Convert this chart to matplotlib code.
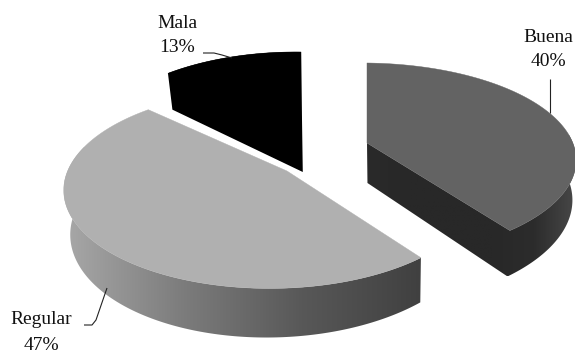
import numpy as np
import matplotlib
matplotlib.use("Agg")
import matplotlib.pyplot as plt
from matplotlib.patches import Polygon
from matplotlib.colors import LinearSegmentedColormap

# Survey answers and their share in percent
categories = ["Buena", "Regular", "Mala"]
values = [40, 47, 13]

# Slice styling and where each exploded slice sits on the canvas
apexes = {"Buena": (367, 143), "Regular": (287, 171), "Mala": (301, 132)}
top_colors = {"Buena": "#636363", "Regular": "#b0b0b0", "Mala": "#000000"}
side_ramps = {
    "Buena": ["#2a2a2a", "#282828", "#282828", "#282828", "#2c2c2c", "#484848"],
    "Regular": ["#a8a8a8", "#7c7c7c", "#585858", "#404040"],
    "Mala": ["#000000", "#000000"],
}
# Projection settings per slice: horizontal radius, vertical radius, x tilt
shapes = {"Buena": (212.0, 94.4, 0.03), "Regular": (204.0, 96.0, 0.07), "Mala": (201.0, 94.4, 0.03)}
label_pos = {
    "Buena": (548, 38, 62),
    "Regular": (41, 320, 346),
    "Mala": (177, 24, 48),
}
leaders = [
    ([550, 550], [79, 113]),
    ([84, 92, 96, 107], [325, 325, 320, 288]),
    ([203, 214, 222, 232], [53, 53, 55, 58]),
]

KY, DEPTH = 0.18, 40.0
BASE_SHRINK, BASE_PIVOT = 0.02, 390.0


def project(theta_deg, apex, shape):
    """Rim of the upper face and of the base, with angles clockwise from 12 o'clock."""
    rx, ry, kx = shape
    t = np.radians(theta_deg)
    x, y = np.sin(t), np.cos(t)
    s = 1.0 / (1.0 + KY * y + kx * x)
    top_x = apex[0] + rx * x * s
    top_y = apex[1] - ry * y * s
    bot_x = top_x - BASE_SHRINK * (top_x - BASE_PIVOT)
    bot_y = top_y + DEPTH * s
    return top_x, top_y, bot_x, bot_y


def base_point(p):
    return (p[0] - BASE_SHRINK * (p[0] - BASE_PIVOT), p[1] + DEPTH)


fig = plt.figure(figsize=(5.75, 3.54), dpi=100)
ax = fig.add_axes([0, 0, 1, 1])

edges = np.cumsum([0] + values) * 3.6
spans = {c: (edges[i], edges[i + 1]) for i, c in enumerate(categories)}

# Painted back to front so Regular overlaps the others
for name in ["Mala", "Buena", "Regular"]:
    start, end = spans[name]
    apex = apexes[name]
    shape = shapes[name]
    th = np.linspace(start, end, 241)
    tx, ty, bx, by = project(th, apex, shape)
    ramp = LinearSegmentedColormap.from_list(name, side_ramps[name])

    # Lower body of the slice: outer wall plus the cut face that looks forward
    if name == "Buena":
        keep = np.cos(np.radians(th)) < 0.1
        outline = np.vstack([
            np.column_stack([tx[keep], ty[keep]]),
            [apex], [base_point(apex)],
            np.column_stack([bx[keep][::-1], by[keep][::-1]]),
        ])
    elif name == "Mala":
        outline = np.vstack([
            np.column_stack([tx, ty]),
            [base_point(apex)],
            [(bx[0], by[0])],
            np.column_stack([tx[:1], ty[:1]]),
        ])
    else:
        keep = np.cos(np.radians(th)) < 0.25
        outline = np.vstack([
            np.column_stack([tx[keep], ty[keep]]),
            np.column_stack([bx[keep][::-1], by[keep][::-1]]),
        ])

    body = Polygon(outline, closed=True, fc="none", ec="none", zorder=1)
    ax.add_patch(body)
    x0, x1 = outline[:, 0].min(), outline[:, 0].max()
    y0, y1 = outline[:, 1].min(), outline[:, 1].max()
    gradient = np.linspace(0, 1, 256).reshape(1, -1)
    im = ax.imshow(gradient, cmap=ramp, vmin=0, vmax=1, extent=[x0, x1, y1, y0],
                   aspect="auto", zorder=2, interpolation="bilinear")
    im.set_clip_path(body)

    # Upper face
    face = np.column_stack([np.r_[apex[0], tx], np.r_[apex[1], ty]])
    ax.add_patch(Polygon(face, closed=True, fc=top_colors[name],
                         ec=top_colors[name], lw=0.3, zorder=3))

ax.set_xlim(0, 575)
ax.set_ylim(354, 0)
ax.axis("off")

for lx, ly in leaders:
    ax.plot(lx, ly, color="#222222", lw=0.8, zorder=4, solid_capstyle="butt")

for name, value in zip(categories, values):
    x, y1, y2 = label_pos[name]
    ax.text(x, y1, name, ha="center", va="center", fontsize=14,
            family="Liberation Serif", color="#111111", zorder=5)
    ax.text(x, y2, f"{value}%", ha="center", va="center", fontsize=14,
            family="Liberation Serif", color="#111111", zorder=5)

fig.savefig("out.png", dpi=100, facecolor="white")
